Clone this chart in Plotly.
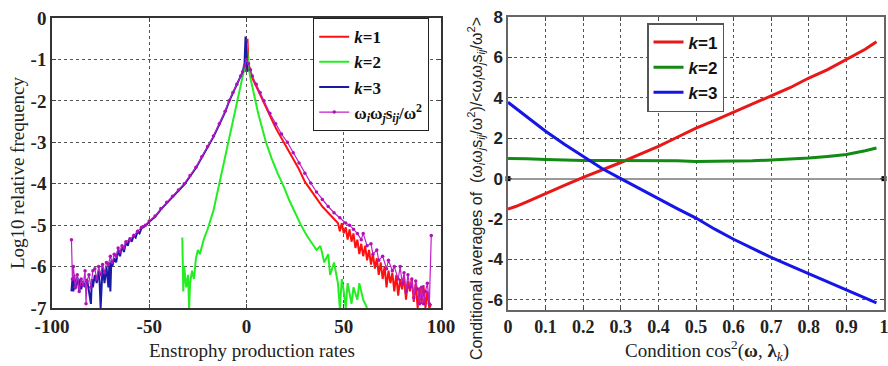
import plotly.graph_objects as go

# ---------------- Left panel data (log10 relative frequency) ----------------
mix_x = [-90, -89.5, -89, -88, -87, -86, -85, -84, -83, -82.5, -82, -81, -80, -79, -78, -77, -76, -75, -74, -73,
         -72, -71, -70, -69, -68, -67, -66, -65, -64, -63, -62, -60, -58, -56, -54, -52, -50, -47, -44, -41,
         -38, -35, -32, -29, -26, -23, -20, -17, -14, -11, -9, -7, -5, -3, -2, -1, 0, 1, 2, 3,
         5, 7, 9, 12, 15, 18, 21, 24, 27, 30, 33, 36, 39, 42, 45, 48, 51, 53, 55, 57,
         59, 60, 62, 64, 65, 67, 68, 70, 72, 73, 75, 76, 78, 79, 80, 81, 82, 83, 84, 85,
         86, 87, 88, 89, 90, 91, 92, 93, 94, 95]
mix_y = [-5.35, -6.3, -6.0, -6.5, -6.2, -6.6, -6.3, -6.45, -6.1, -6.9, -6.35, -6.2, -6.5, -6.1, -6.05, -6.3, -6.0, -6.2, -5.95, -6.15,
         -5.9, -5.95, -5.75, -5.9, -5.7, -5.75, -5.55, -5.65, -5.5, -5.55, -5.4, -5.35, -5.25, -5.15, -5.05, -5.0, -4.9, -4.78, -4.6, -4.45,
         -4.3, -4.15, -4.0, -3.8, -3.6, -3.35, -3.1, -2.85, -2.55, -2.25, -2.0, -1.8, -1.6, -1.4, -1.3, -1.15, -1.0, -1.1, -1.25, -1.4,
         -1.6, -1.8, -2.0, -2.3, -2.55, -2.8, -3.0, -3.25, -3.5, -3.75, -3.98, -4.2, -4.38, -4.55, -4.7, -4.82, -4.95, -5.0, -5.1, -5.2,
         -5.35, -5.2, -5.5, -5.45, -5.7, -5.6, -5.85, -5.75, -6.05, -5.85, -6.1, -6.0, -6.3, -6.0, -6.4, -6.15, -6.6, -6.2, -6.5, -6.3,
         -6.75, -6.35, -6.55, -6.9, -6.5, -6.9, -6.6, -6.4, -6.9, -5.25]

k1_x = [-0.5, 0, 0.5, 1, 2, 3, 5, 7, 9, 12, 15, 18, 21, 24, 27, 30, 33, 36, 39, 42,
        45, 47, 48, 49, 50, 51, 52, 53, 54, 55, 56, 57, 58, 59, 60, 61, 62, 63, 64, 65,
        66, 67, 68, 69, 70, 71, 72, 73, 74, 75, 76, 77, 78, 79, 80, 81, 82, 83, 84, 85,
        86, 87, 88, 89, 90, 91, 92, 93, 94, 95]
k1_y = [-1.3, -0.9, -0.5, -1.1, -1.3, -1.45, -1.65, -1.85, -2.05, -2.35, -2.65, -2.9, -3.15, -3.4, -3.65, -3.95, -4.15, -4.35, -4.55, -4.7,
        -4.85, -4.95, -5.15, -4.95, -5.2, -5.05, -5.35, -5.1, -5.4, -5.2, -5.55, -5.35, -5.7, -5.45, -5.75, -5.5, -5.85, -5.6, -5.95, -5.7,
        -6.05, -5.8, -6.2, -5.9, -6.3, -6.0, -6.5, -6.1, -6.4, -6.15, -6.6, -6.2, -6.7, -6.3, -6.55, -6.25, -6.8, -6.35, -6.6, -6.3,
        -6.85, -6.4, -7.0, -6.5, -6.9, -6.45, -7.0, -6.6, -7.0, -6.9]

k2_x = [-33, -32.5, -32, -31, -30, -29.5, -29, -28, -27, -26, -25, -24, -22, -20, -17, -14, -11, -8, -6, -4,
        -2, -1, 0, 0.5, 1, 2, 4, 6, 8, 10, 13, 16, 19, 22, 25, 28, 31, 34, 36, 38,
        40, 42, 43, 45, 47, 48, 49, 50, 51, 52, 54, 55, 57, 58, 60, 62]
k2_y = [-5.3, -6.6, -6.0, -6.5, -6.2, -7.0, -6.4, -6.1, -6.3, -5.8, -5.6, -5.7, -5.35, -5.1, -4.65, -4.0, -3.35, -2.75, -2.3, -1.85,
        -1.45, -1.2, -0.6, -1.0, -1.15, -1.45, -1.9, -2.3, -2.65, -3.0, -3.4, -3.75, -4.05, -4.4, -4.7, -5.0, -5.25, -5.45, -5.6, -5.5,
        -5.9, -5.7, -6.2, -5.9, -6.4, -7.0, -6.3, -6.6, -7.0, -6.4, -6.9, -6.5, -6.8, -6.4, -6.8, -7.0]

k3_x = [-90, -89.5, -89, -88.5, -88, -87, -86, -85.5, -85, -84, -83, -82, -81, -80, -79.5, -79, -78, -77, -76, -75.5,
        -75, -74.5, -74, -73, -72, -71, -70.5, -70, -69.5, -69, -68, -67, -66, -65, -64, -63, -62, -61, -60, -59,
        -58, -57, -56, -55, -54, -52, -50, -47, -44, -41, -38, -35, -32, -29, -26, -23, -20, -17, -14, -11,
        -9, -7, -5, -3, -2, -1, -0.5, 0, 0.5]
k3_y = [-6.6, -6.3, -6.6, -6.2, -6.55, -6.25, -6.6, -6.3, -6.55, -6.35, -6.5, -6.3, -6.6, -6.9, -6.3, -6.5, -6.2, -6.4, -6.1, -6.4,
        -7.0, -6.2, -6.0, -6.4, -6.0, -6.5, -5.9, -6.6, -5.85, -6.0, -5.8, -5.9, -5.6, -5.75, -5.5, -5.65, -5.4, -5.5, -5.3, -5.4,
        -5.25, -5.3, -5.15, -5.2, -5.08, -5.02, -4.92, -4.8, -4.62, -4.47, -4.32, -4.17, -4.02, -3.82, -3.62, -3.37, -3.12, -2.87, -2.57, -2.27,
        -2.02, -1.82, -1.62, -1.42, -1.3, -1.1, -0.45, -0.8, -1.3]

# ---------------- Right panel data (conditional averages) ----------------
cond_x = [0, 0.02, 0.05, 0.1, 0.15, 0.2, 0.25, 0.3, 0.35, 0.4, 0.45, 0.5, 0.55, 0.6, 0.65, 0.7, 0.75, 0.8, 0.85, 0.9, 0.95, 0.98]
ca_k1 = [-1.5, -1.38, -1.15, -0.72, -0.33, 0.06, 0.42, 0.8, 1.2, 1.6, 2.05, 2.5, 2.88, 3.3, 3.68, 4.1, 4.5, 4.98, 5.4, 5.88, 6.4, 6.78]
ca_k2 = [1.0, 1.0, 0.98, 0.95, 0.92, 0.9, 0.9, 0.9, 0.9, 0.9, 0.88, 0.85, 0.85, 0.87, 0.88, 0.92, 0.96, 1.02, 1.1, 1.2, 1.38, 1.52]
ca_k3 = [3.78, 3.5, 3.05, 2.35, 1.7, 1.08, 0.5, 0.0, -0.5, -1.0, -1.48, -1.95, -2.5, -3.0, -3.45, -3.9, -4.3, -4.7, -5.1, -5.5, -5.9, -6.15]

left_xticks = [-100, -50, 0, 50, 100]
left_yticks = [0, -1, -2, -3, -4, -5, -6, -7]
right_xticks = [0, 0.1, 0.2, 0.3, 0.4, 0.5, 0.6, 0.7, 0.8, 0.9, 1]
right_yticks = [-6, -4, -2, 0, 2, 4, 6, 8]

W, H = 888, 366
SERIF = "Liberation Serif"
SANS = "Liberation Sans"

def px(x):
    return x / W

def py(y):
    return 1 - y / H

fig = go.Figure()

# Left panel traces
fig.add_trace(go.Scatter(x=k1_x, y=k1_y, mode="lines", line=dict(color="#FF1010", width=2),
                         name="<b><i>k</i>=1</b>", legend="legend", xaxis="x", yaxis="y"))
fig.add_trace(go.Scatter(x=k2_x, y=k2_y, mode="lines", line=dict(color="#22EE22", width=2),
                         name="<b><i>k</i>=2</b>", legend="legend", xaxis="x", yaxis="y"))
fig.add_trace(go.Scatter(x=k3_x, y=k3_y, mode="lines", line=dict(color="#1A1AA8", width=2),
                         name="<b><i>k</i>=3</b>", legend="legend", xaxis="x", yaxis="y"))
fig.add_trace(go.Scatter(x=mix_x, y=mix_y, mode="lines+markers", line=dict(color="#C020C8", width=1.2),
                         marker=dict(color="#B010B8", size=3.5),
                         name="<b>ω<sub><i>i</i></sub>ω<sub><i>j</i></sub>s<sub><i>ij</i></sub>/ω<sup>2</sup></b>",
                         legend="legend", xaxis="x", yaxis="y"))

# Right panel traces
fig.add_trace(go.Scatter(x=cond_x, y=ca_k1, mode="lines", line=dict(color="#E81818", width=3),
                         name="<b><i>k</i>=1</b>", legend="legend2", xaxis="x2", yaxis="y2"))
fig.add_trace(go.Scatter(x=cond_x, y=ca_k2, mode="lines", line=dict(color="#138A13", width=3),
                         name="<b><i>k</i>=2</b>", legend="legend2", xaxis="x2", yaxis="y2"))
fig.add_trace(go.Scatter(x=cond_x, y=ca_k3, mode="lines", line=dict(color="#1515E8", width=3),
                         name="<b><i>k</i>=3</b>", legend="legend2", xaxis="x2", yaxis="y2"))

r_xrange = [0, 1]
fig.add_trace(go.Scatter(x=r_xrange, y=[0, 0], mode="markers", marker=dict(symbol="square", size=5, color="black"),
                         showlegend=False, cliponaxis=False, xaxis="x2", yaxis="y2", hoverinfo="skip"))

grid = dict(showgrid=True, gridcolor="#555555", griddash="dot", gridwidth=1)

fig.update_layout(
    width=W, height=H,
    margin=dict(l=0, r=0, t=0, b=0),
    paper_bgcolor="white", plot_bgcolor="white",
    xaxis=dict(domain=[px(52), px(441)], range=[-100, 100], tickvals=left_xticks,
               ticktext=[str(v) for v in left_xticks],
               tickfont=dict(family=SERIF, size=19, color="#222", weight="bold"), ticks="inside", ticklen=4,
               showline=True, linecolor="#333", linewidth=1.5, mirror="ticks", zeroline=False,
               automargin=False, anchor="y", ticklabeloverflow="allow", **grid),
    yaxis=dict(domain=[py(308), py(18)], range=[-7, 0], tickvals=left_yticks,
               ticktext=[str(v) for v in left_yticks],
               tickfont=dict(family=SERIF, size=19, color="#222", weight="bold"), ticks="inside", ticklen=4,
               showline=True, linecolor="#333", linewidth=1.5, mirror="ticks", zeroline=False,
               automargin=False, anchor="x", ticklabeloverflow="allow", **grid),
    xaxis2=dict(domain=[px(508), px(884)], range=r_xrange, tickvals=right_xticks,
                ticktext=[f"{v:g}" for v in right_xticks],
                tickfont=dict(family=SERIF, size=18, color="#222", weight="bold"), ticks="inside", ticklen=4,
                showline=True, linecolor="#666", linewidth=1.5, mirror="ticks", zeroline=False,
                automargin=False, anchor="y2", ticklabeloverflow="allow", **grid),
    yaxis2=dict(domain=[py(310), py(17)], range=[-6.5, 8], tickvals=right_yticks,
                ticktext=[str(v) for v in right_yticks],
                tickfont=dict(family=SANS, size=17, color="#222", weight="bold"), ticks="inside", ticklen=4,
                showline=True, linecolor="#666", linewidth=1.5, mirror="ticks",
                zeroline=True, zerolinecolor="#999999", zerolinewidth=1.5,
                automargin=False, anchor="x2", ticklabeloverflow="allow", **grid),
    legend=dict(x=px(313), y=py(18), xanchor="left", yanchor="top",
                bgcolor="white", bordercolor="#222", borderwidth=1.2,
                font=dict(family=SERIF, size=17, color="#111"), tracegroupgap=0,
                itemwidth=30),
    legend2=dict(x=px(647), y=py(23), xanchor="left", yanchor="top",
                 bgcolor="white", bordercolor="#555", borderwidth=1.5,
                 font=dict(family=SANS, size=17, color="#111"), tracegroupgap=0,
                 itemwidth=30),
    showlegend=True,
)

ann = [
    dict(text="Enstrophy production rates", x=px(252), y=py(350), xref="paper", yref="paper",
         showarrow=False, font=dict(family=SERIF, size=19, color="#222"), xanchor="center", yanchor="middle"),
    dict(text="Log10 relative frequency", x=px(17), y=py(173), xref="paper", yref="paper", textangle=-90,
         showarrow=False, font=dict(family=SERIF, size=19, color="#222"), xanchor="center", yanchor="middle"),
    dict(text="Condition cos<sup>2</sup>(<b>ω</b>, <b>λ</b><sub><i>k</i></sub>)", x=px(707), y=py(350),
         xref="paper", yref="paper", showarrow=False, font=dict(family=SERIF, size=19, color="#222"),
         xanchor="center", yanchor="middle"),
    dict(text="Conditional averages of  (ω<sub><i>i</i></sub>ω<sub><i>j</i></sub>s<sub><i>ij</i></sub>/ω<sup>2</sup>)/&lt;ω<sub><i>i</i></sub>ω<sub><i>j</i></sub>s<sub><i>ij</i></sub>/ω<sup>2</sup>&gt;",
         x=px(476), y=py(188), xref="paper", yref="paper", textangle=-90, showarrow=False,
         font=dict(family=SANS, size=16, color="#222"), xanchor="center", yanchor="middle"),
]
fig.update_layout(annotations=ann)

fig.write_html("out.html")
